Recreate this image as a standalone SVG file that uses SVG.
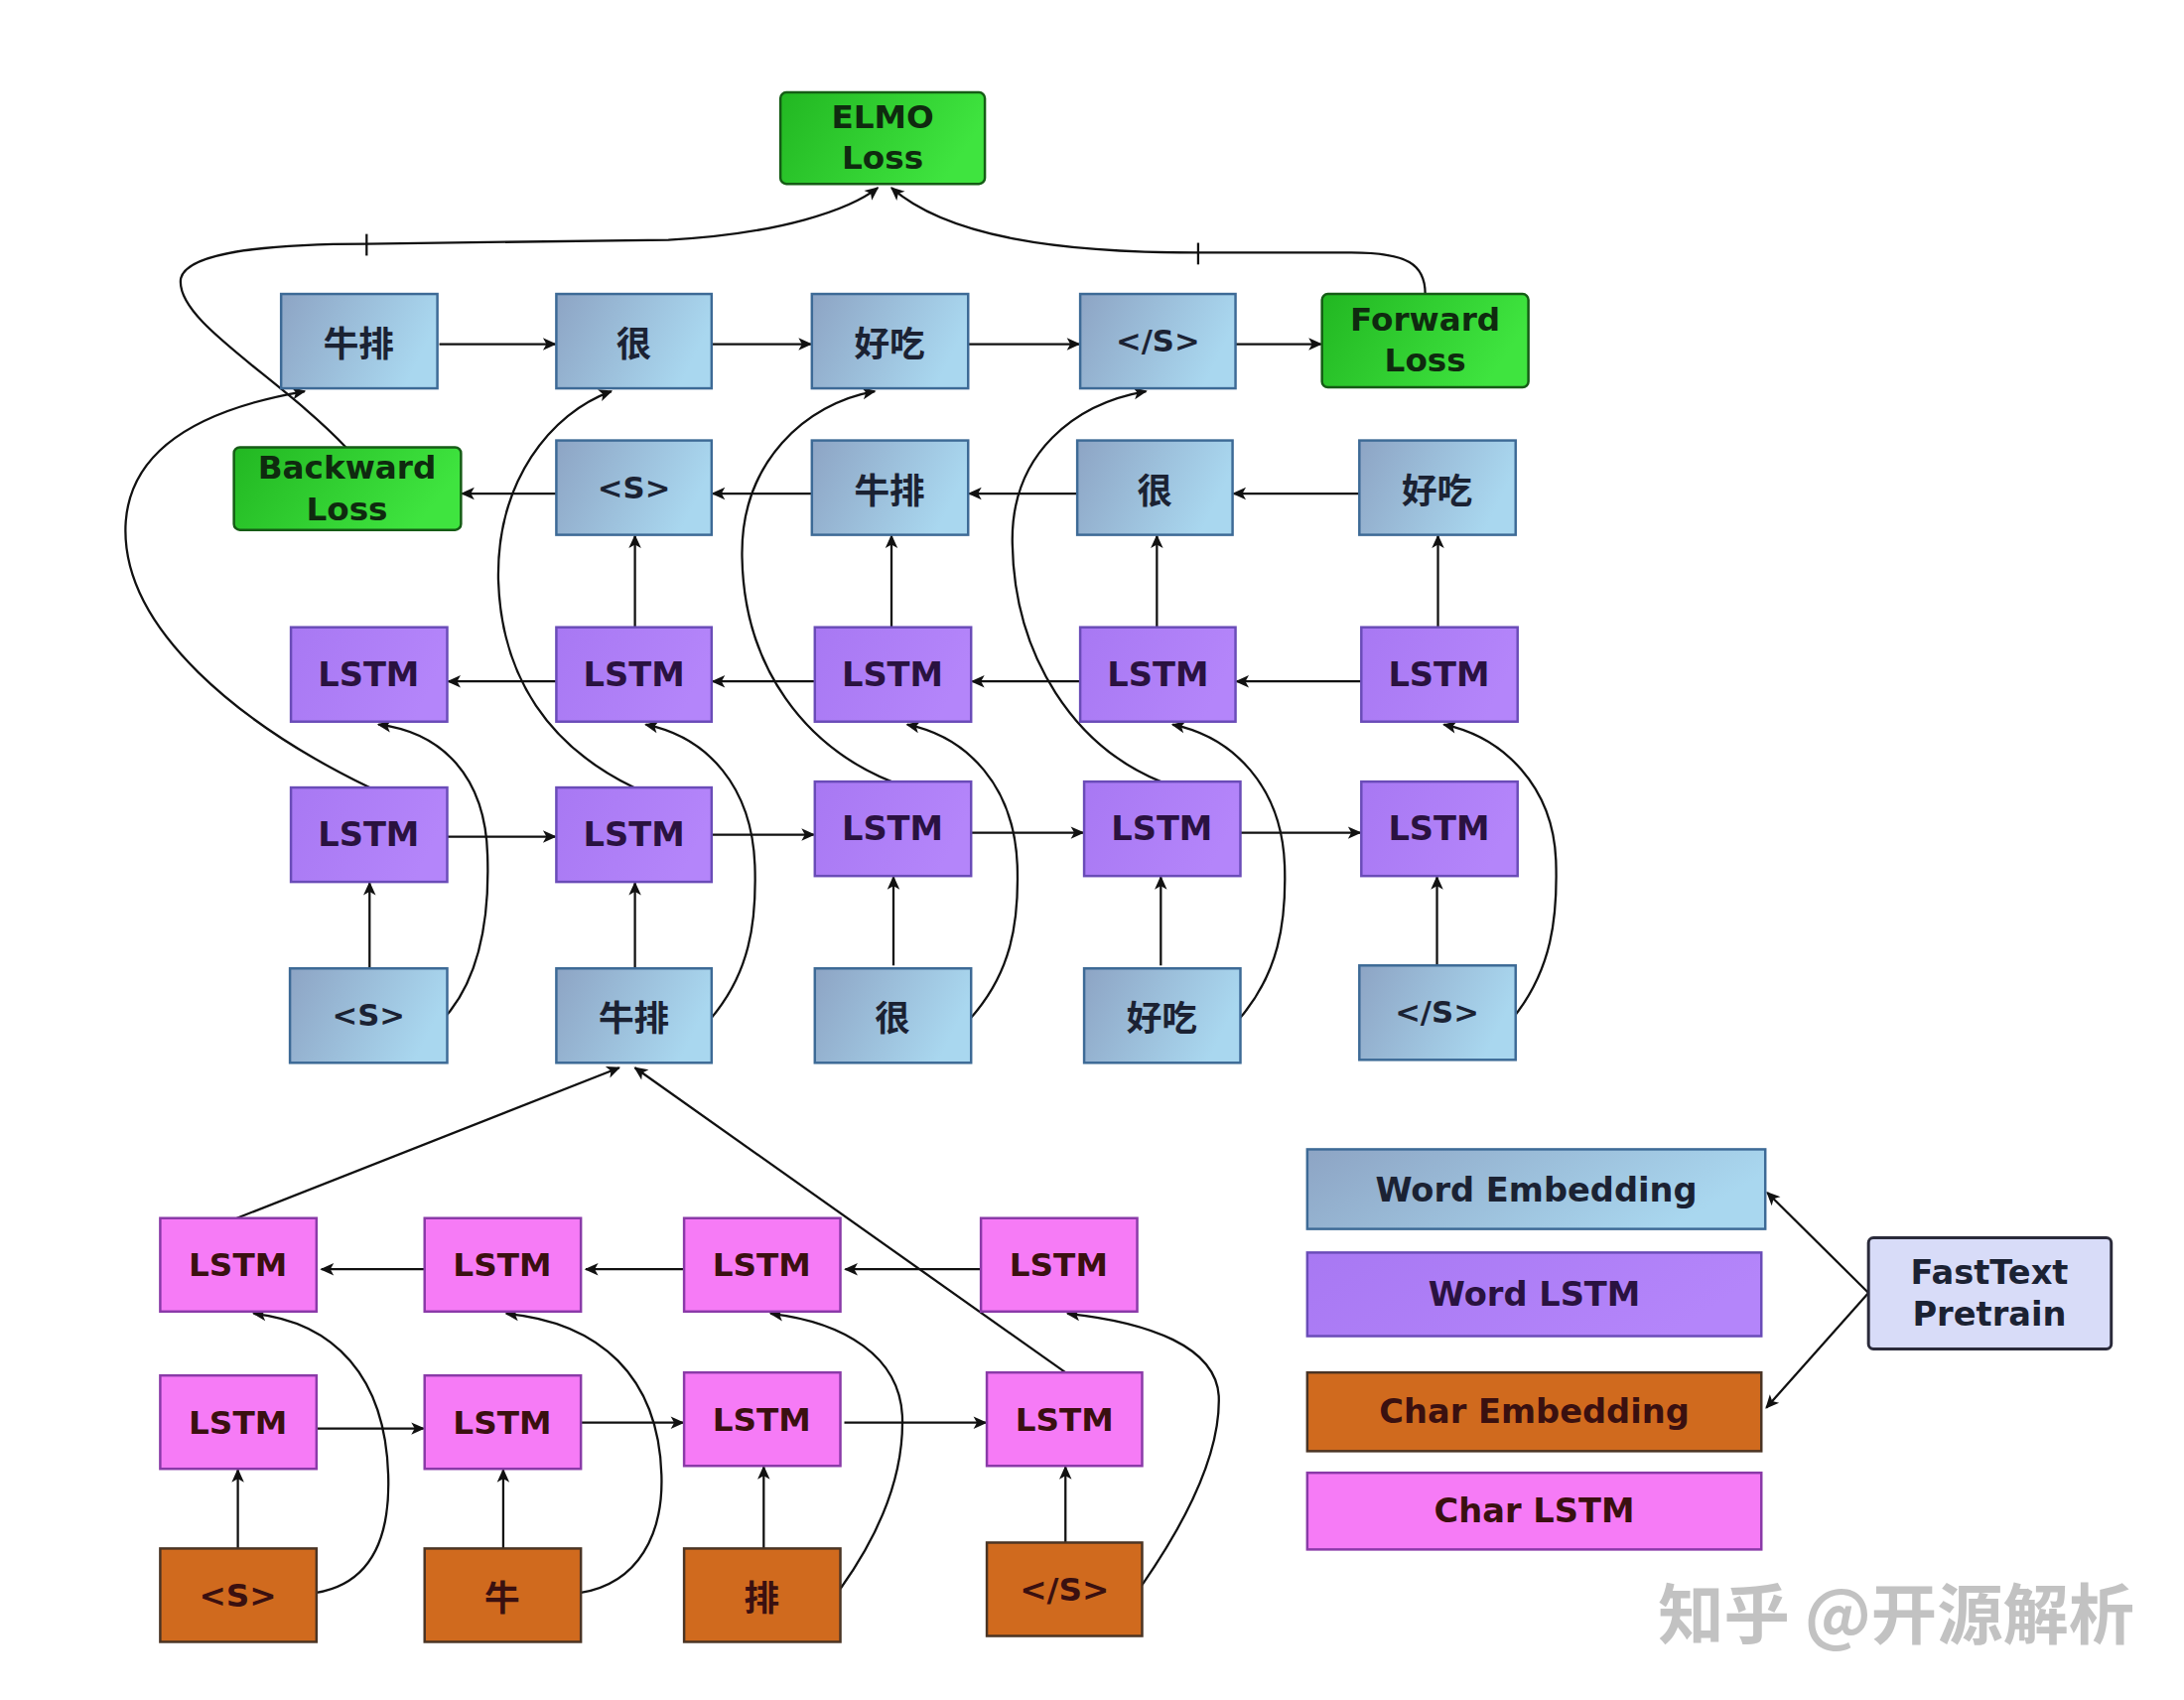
<svg xmlns="http://www.w3.org/2000/svg" width="2200" height="1712" viewBox="0 0 2200 1712">
<defs>
<linearGradient id="gEmb" x1="0" y1="0" x2="1" y2="0.3"><stop offset="0" stop-color="#8da4c4"/><stop offset="1" stop-color="#a9d7ef"/></linearGradient>
<linearGradient id="gGreen" x1="0" y1="0" x2="1" y2="0.3"><stop offset="0" stop-color="#22b722"/><stop offset="1" stop-color="#3fe43f"/></linearGradient>
<linearGradient id="gPur" x1="0" y1="0" x2="1" y2="0.3"><stop offset="0" stop-color="#a878f3"/><stop offset="1" stop-color="#b485fa"/></linearGradient>
<marker id="ah" viewBox="0 0 10 10" refX="9" refY="5" markerWidth="17" markerHeight="14" markerUnits="userSpaceOnUse" orient="auto"><path d="M0,0.5 L10,5 L0,9.5 L2.5,5 z" fill="#111"/></marker>
<style>
.emb{fill:url(#gEmb);stroke:#3d6a96;stroke-width:2.5}
.grn{fill:url(#gGreen);stroke:#155c15;stroke-width:2.5}
.wl{fill:url(#gPur);stroke:#6a4cb8;stroke-width:2.5}
.cl{fill:#f67bf6;stroke:#8a3aa8;stroke-width:2.5}
.ce{fill:#d06a1e;stroke:#4a3424;stroke-width:2.5}
.ft{fill:#d8dcf8;stroke:#2a2a3a;stroke-width:3}
text{font-family:"DejaVu Sans","Noto Sans CJK SC",sans-serif;text-anchor:middle;dominant-baseline:central;font-weight:700}
.t{font-size:31px;fill:#1b2233}
.tz{font-size:36px;fill:#1b2233;font-family:"Noto Sans CJK SC",sans-serif}
.tg{font-size:33px;fill:#0f2a0f}
.tl{font-size:34px;fill:#2a1240}
.tc{font-size:33px;fill:#3a1010}
.tcz{font-size:36px;fill:#3a1010;font-family:"Noto Sans CJK SC",sans-serif}
.lg{font-size:34px}
.c line,.c path{stroke:#111;stroke-width:2.3;fill:none}
.a{marker-end:url(#ah)}
.wm{font-family:"Noto Sans CJK SC",sans-serif;font-size:67px;fill:#c2c2c2;text-anchor:start}
</style>
</defs>
<rect width="2200" height="1712" fill="#ffffff"/>
<g id="diagram" transform="scale(0.9901)">

<g id="connectors" class="c">
<path class="a" d="M352,455 C284,383 177,326 184,283 C191,255 284,248 373,248 L680,244 C794,238 865,213 893,191"/>
<path class="a" d="M1450,299 C1450,269 1432,257 1375,257 L1219,257 C1077,257 964,241 907,191"/>
<line x1="373" y1="238" x2="373" y2="260"/>
<line x1="1219" y1="247" x2="1219" y2="269"/>
<line class="a" x1="447" y1="350" x2="565" y2="350"/>
<line class="a" x1="724" y1="350" x2="825" y2="350"/>
<line class="a" x1="985" y1="350" x2="1098" y2="350"/>
<line class="a" x1="1257" y1="350" x2="1344" y2="350"/>
<line class="a" x1="1383" y1="502" x2="1255" y2="502"/>
<line class="a" x1="1096" y1="502" x2="986" y2="502"/>
<line class="a" x1="826" y1="502" x2="725" y2="502"/>
<line class="a" x1="566" y1="502" x2="470" y2="502"/>
<line class="a" x1="1385" y1="693" x2="1258" y2="693"/>
<line class="a" x1="1099" y1="693" x2="989" y2="693"/>
<line class="a" x1="829" y1="693" x2="725" y2="693"/>
<line class="a" x1="566" y1="693" x2="456" y2="693"/>
<line class="a" x1="455" y1="851" x2="565" y2="851"/>
<line class="a" x1="724" y1="849" x2="828" y2="849"/>
<line class="a" x1="988" y1="847" x2="1102" y2="847"/>
<line class="a" x1="1262" y1="847" x2="1384" y2="847"/>
<line class="a" x1="646" y1="638" x2="646" y2="545"/>
<line class="a" x1="907" y1="638" x2="907" y2="545"/>
<line class="a" x1="1177" y1="638" x2="1177" y2="545"/>
<line class="a" x1="1463" y1="638" x2="1463" y2="545"/>
<line class="a" x1="376" y1="985" x2="376" y2="898"/>
<line class="a" x1="646" y1="985" x2="646" y2="898"/>
<line class="a" x1="909" y1="982" x2="909" y2="892"/>
<line class="a" x1="1181" y1="982" x2="1181" y2="892"/>
<line class="a" x1="1462" y1="982" x2="1462" y2="892"/>
<path class="a" d="M376,801 C250,740 120,640 128,530 C135,440 240,410 310,398"/>
<path class="a" d="M645,801 C560,760 510,690 507,590 C505,490 560,420 622,398"/>
<path class="a" d="M907,795 C820,760 757,680 755,567 C753,470 820,410 890,398"/>
<path class="a" d="M1181,795 C1095,760 1032,670 1030,553 C1028,460 1095,410 1166,398"/>
<path class="a" d="M455,1032 C490,990 498,930 496,870 C494,790 450,745 385,737"/>
<path class="a" d="M724,1035 C762,990 770,940 768,880 C765,800 720,750 657,737"/>
<path class="a" d="M988,1035 C1028,990 1037,940 1035,880 C1032,800 985,750 923,737"/>
<path class="a" d="M1262,1035 C1300,990 1309,940 1307,880 C1304,800 1255,750 1193,737"/>
<path class="a" d="M1542,1032 C1578,985 1585,935 1583,875 C1580,800 1530,750 1469,737"/>
<line class="a" x1="241" y1="1239" x2="630" y2="1086"/>
<line class="a" x1="1084" y1="1396" x2="646" y2="1086"/>
<line class="a" x1="998" y1="1291" x2="860" y2="1291"/>
<line class="a" x1="696" y1="1291" x2="596" y2="1291"/>
<line class="a" x1="432" y1="1291" x2="327" y2="1291"/>
<line class="a" x1="322" y1="1453" x2="431" y2="1453"/>
<line class="a" x1="591" y1="1447" x2="695" y2="1447"/>
<line class="a" x1="859" y1="1447" x2="1003" y2="1447"/>
<line class="a" x1="242" y1="1575" x2="242" y2="1495"/>
<line class="a" x1="512" y1="1575" x2="512" y2="1495"/>
<line class="a" x1="777" y1="1575" x2="777" y2="1492"/>
<line class="a" x1="1084" y1="1569" x2="1084" y2="1492"/>
<path class="a" d="M322,1620 C380,1610 397,1560 395,1500 C392,1400 340,1345 258,1336"/>
<path class="a" d="M591,1620 C650,1610 675,1560 673,1500 C670,1400 610,1345 515,1336"/>
<path class="a" d="M855,1616 C895,1560 920,1500 918,1440 C915,1380 860,1345 784,1336"/>
<path class="a" d="M1162,1612 C1205,1550 1242,1480 1240,1420 C1237,1370 1170,1345 1086,1336"/>
<line class="a" x1="1901" y1="1315" x2="1798" y2="1213"/>
<line class="a" x1="1901" y1="1315" x2="1797" y2="1432"/>
</g>

<g id="elmo-loss"><rect class="grn" x="794" y="94" width="208" height="93" rx="6"/><text class="tg" x="898" y="119">ELMO</text><text class="tg" x="898" y="161">Loss</text></g>

<g id="f-out1"><rect class="emb" x="286" y="299" width="159" height="96"/><text class="tz" x="365" y="347">牛排</text></g>
<g id="f-out2"><rect class="emb" x="566" y="299" width="158" height="96"/><text class="tz" x="645" y="347">很</text></g>
<g id="f-out3"><rect class="emb" x="826" y="299" width="159" height="96"/><text class="tz" x="905" y="347">好吃</text></g>
<g id="f-out4"><rect class="emb" x="1099" y="299" width="158" height="96"/><text class="t" x="1178" y="347">&lt;/S&gt;</text></g>
<g id="forward-loss"><rect class="grn" x="1345" y="299" width="210" height="95" rx="6"/><text class="tg" x="1450" y="325">Forward</text><text class="tg" x="1450" y="367">Loss</text></g>

<g id="backward-loss"><rect class="grn" x="238" y="455" width="231" height="84" rx="6"/><text class="tg" x="353" y="476">Backward</text><text class="tg" x="353" y="518">Loss</text></g>
<g id="b-out1"><rect class="emb" x="566" y="448" width="158" height="96"/><text class="t" x="645" y="496">&lt;S&gt;</text></g>
<g id="b-out2"><rect class="emb" x="826" y="448" width="159" height="96"/><text class="tz" x="905" y="496">牛排</text></g>
<g id="b-out3"><rect class="emb" x="1096" y="448" width="158" height="96"/><text class="tz" x="1175" y="496">很</text></g>
<g id="b-out4"><rect class="emb" x="1383" y="448" width="159" height="96"/><text class="tz" x="1462" y="496">好吃</text></g>

<g id="b-lstm1"><rect class="wl" x="296" y="638" width="159" height="96"/><text class="tl" x="375" y="686">LSTM</text></g>
<g id="b-lstm2"><rect class="wl" x="566" y="638" width="158" height="96"/><text class="tl" x="645" y="686">LSTM</text></g>
<g id="b-lstm3"><rect class="wl" x="829" y="638" width="159" height="96"/><text class="tl" x="908" y="686">LSTM</text></g>
<g id="b-lstm4"><rect class="wl" x="1099" y="638" width="158" height="96"/><text class="tl" x="1178" y="686">LSTM</text></g>
<g id="b-lstm5"><rect class="wl" x="1385" y="638" width="159" height="96"/><text class="tl" x="1464" y="686">LSTM</text></g>

<g id="f-lstm1"><rect class="wl" x="296" y="801" width="159" height="96"/><text class="tl" x="375" y="849">LSTM</text></g>
<g id="f-lstm2"><rect class="wl" x="566" y="801" width="158" height="96"/><text class="tl" x="645" y="849">LSTM</text></g>
<g id="f-lstm3"><rect class="wl" x="829" y="795" width="159" height="96"/><text class="tl" x="908" y="843">LSTM</text></g>
<g id="f-lstm4"><rect class="wl" x="1103" y="795" width="159" height="96"/><text class="tl" x="1182" y="843">LSTM</text></g>
<g id="f-lstm5"><rect class="wl" x="1385" y="795" width="159" height="96"/><text class="tl" x="1464" y="843">LSTM</text></g>

<g id="in1"><rect class="emb" x="295" y="985" width="160" height="96"/><text class="t" x="375" y="1033">&lt;S&gt;</text></g>
<g id="in2"><rect class="emb" x="566" y="985" width="158" height="96"/><text class="tz" x="645" y="1033">牛排</text></g>
<g id="in3"><rect class="emb" x="829" y="985" width="159" height="96"/><text class="tz" x="908" y="1033">很</text></g>
<g id="in4"><rect class="emb" x="1103" y="985" width="159" height="96"/><text class="tz" x="1182" y="1033">好吃</text></g>
<g id="in5"><rect class="emb" x="1383" y="982" width="159" height="96"/><text class="t" x="1462" y="1030">&lt;/S&gt;</text></g>

<g id="c-blstm1"><rect class="cl" x="163" y="1239" width="159" height="95"/><text class="tc" x="242" y="1287">LSTM</text></g>
<g id="c-blstm2"><rect class="cl" x="432" y="1239" width="159" height="95"/><text class="tc" x="511" y="1287">LSTM</text></g>
<g id="c-blstm3"><rect class="cl" x="696" y="1239" width="159" height="95"/><text class="tc" x="775" y="1287">LSTM</text></g>
<g id="c-blstm4"><rect class="cl" x="998" y="1239" width="159" height="95"/><text class="tc" x="1077" y="1287">LSTM</text></g>

<g id="c-flstm1"><rect class="cl" x="163" y="1399" width="159" height="95"/><text class="tc" x="242" y="1447">LSTM</text></g>
<g id="c-flstm2"><rect class="cl" x="432" y="1399" width="159" height="95"/><text class="tc" x="511" y="1447">LSTM</text></g>
<g id="c-flstm3"><rect class="cl" x="696" y="1396" width="159" height="95"/><text class="tc" x="775" y="1444">LSTM</text></g>
<g id="c-flstm4"><rect class="cl" x="1004" y="1396" width="158" height="95"/><text class="tc" x="1083" y="1444">LSTM</text></g>

<g id="c-emb1"><rect class="ce" x="163" y="1575" width="159" height="95"/><text class="tc" x="242" y="1623">&lt;S&gt;</text></g>
<g id="c-emb2"><rect class="ce" x="432" y="1575" width="159" height="95"/><text class="tcz" x="511" y="1623">牛</text></g>
<g id="c-emb3"><rect class="ce" x="696" y="1575" width="159" height="95"/><text class="tcz" x="775" y="1623">排</text></g>
<g id="c-emb4"><rect class="ce" x="1004" y="1569" width="158" height="95"/><text class="tc" x="1083" y="1617">&lt;/S&gt;</text></g>

<g id="legend-word-emb"><rect class="emb" x="1330" y="1169" width="466" height="81"/><text class="t lg" x="1563" y="1210">Word Embedding</text></g>
<g id="legend-word-lstm"><rect class="wl" x="1330" y="1274" width="462" height="85"/><text class="tl lg" x="1561" y="1317">Word LSTM</text></g>
<g id="legend-char-emb"><rect class="ce" x="1330" y="1396" width="462" height="80"/><text class="tc lg" x="1561" y="1436">Char Embedding</text></g>
<g id="legend-char-lstm"><rect class="cl" x="1330" y="1498" width="462" height="78"/><text class="tc lg" x="1561" y="1537">Char LSTM</text></g>
<g id="fasttext"><rect class="ft" x="1901" y="1259" width="247" height="113" rx="5"/><text class="t lg" x="2024" y="1294">FastText</text><text class="t lg" x="2024" y="1337">Pretrain</text></g>

<text class="wm" x="1687" y="1637">知乎 @开源解析</text>
</g>
</svg>
